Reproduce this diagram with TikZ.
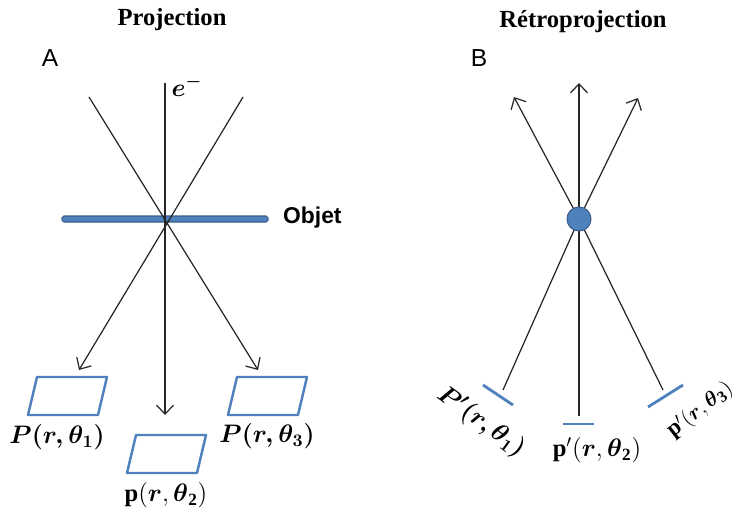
\documentclass[tikz,border=0pt]{standalone}
\usepackage{amsmath}
\usepackage{fontspec}
\setmainfont{Liberation Serif}
\setsansfont{Liberation Sans}
\usetikzlibrary{arrows.meta}
\definecolor{blu}{HTML}{4F81BD}
\definecolor{bluscuro}{HTML}{385D8A}
\tikzset{
  raggio/.style={draw=black!85, line width=0.7pt},
  freccia/.style={raggio, -{Straight Barb[length=1.8mm,width=3.4mm]}},
  rivelatore/.style={draw=blu, line width=1.4pt, line join=round},
  barretta/.style={draw=blu, line width=1.6pt},
  titolo/.style={font=\fontsize{14}{16}\selectfont\bfseries},
  lettera/.style={font=\fontsize{14}{16}\selectfont\sffamily},
  etichetta/.style={font=\fontsize{14}{16}\selectfont, inner sep=1pt}
}
\begin{document}
\begin{tikzpicture}[x=0.02cm, y=-0.02cm]
  \useasboundingbox (0,0) rectangle (740,511);
  % A : projection
  \node[titolo] (tA) at (172,20) {Projection};
  \node[lettera] (A) at (50,58) {A};
  \coordinate (O) at (165,222);
  \coordinate (Ht) at (165,83);
  \coordinate (G) at (89,97);
  \coordinate (D) at (243,97);
  \coordinate (Fg) at (79,370);
  \coordinate (Fc) at (165,415);
  \coordinate (Fd) at (258,370);
  % objet
  \filldraw[fill=blu, draw=bluscuro, line width=0.6pt, rounded corners=1pt] (62,216) rectangle (268,222);
  \node[font=\fontsize{13}{15}\selectfont\sffamily\bfseries, anchor=west] (obj) at (277,218) {Objet};
  % faisceaux
  \draw[freccia] (G) -- (Fd);
  \draw[freccia] (D) -- (Fg);
  \draw[freccia] (Ht) -- (Fc);
  \node[etichetta] (e) at (187,86) {$\boldsymbol{e^-}$};
  % detecteurs
  \foreach \x/\y in {28/415, 127/473, 228/415}
    \draw[rivelatore] (\x,\y) -- ++(70,0) -- ++(9,-38) -- ++(-70,0) -- cycle;
  \node[etichetta] (P1) at (57,437) {$\boldsymbol{P(r,\theta_1)}$};
  \node[etichetta] (P2) at (166,495) {$\mathbf{p}(\boldsymbol{r},\boldsymbol{\theta}_{\mathbf{2}})$};
  \node[etichetta] (P3) at (267,436) {$\boldsymbol{P(r,\theta_3)}$};
  % B : retroprojection
  \node[titolo] (tB) at (583,22) {Rétroprojection};
  \node[lettera] (B) at (479,58) {B};
  \coordinate (C) at (579,219);
  \coordinate (Ag) at (514,97);
  \coordinate (Ac) at (579,83);
  \coordinate (Ad) at (638,98);
  \coordinate (Bg) at (503,390);
  \coordinate (Bc) at (579,416);
  \coordinate (Bd) at (663,390);
  \draw[freccia] (C) -- (Ag);
  \draw[freccia] (C) -- (Ac);
  \draw[freccia] (C) -- (Ad);
  \draw[raggio] (C) -- (Bg);
  \draw[raggio] (C) -- (Bc);
  \draw[raggio] (C) -- (Bd);
  \filldraw[fill=blu, draw=bluscuro, line width=0.6pt] (C) circle (12);
  \draw[barretta] (483,385) -- (513,405);
  \draw[barretta] (563,424) -- (594,424);
  \draw[barretta] (648,407) -- (683,385);
  \node[etichetta, rotate=-36] (Q1) at (481,422) {$\boldsymbol{P'(r,\theta_1)}$};
  \node[etichetta] (Q2) at (597,450) {$\mathbf{p}'(\boldsymbol{r},\boldsymbol{\theta}_{\mathbf{2}})$};
  \node[etichetta, font=\fontsize{13}{15}\selectfont, rotate=38] (Q3) at (700,410) {$\mathbf{p}'(\boldsymbol{r},\boldsymbol{\theta}_{\mathbf{3}})$};
\end{tikzpicture}
\end{document}
